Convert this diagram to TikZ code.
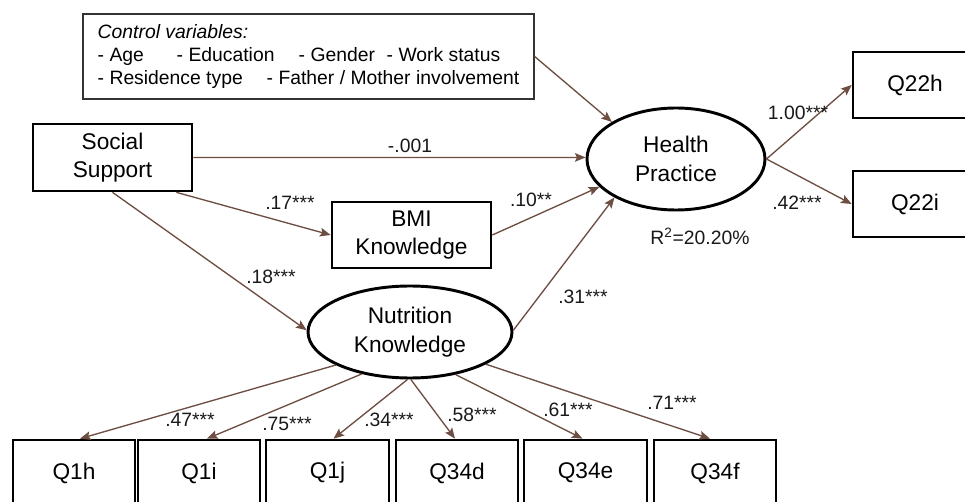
\documentclass[tikz,border=0pt]{standalone}
\usepackage{fontspec}
\setmainfont{Liberation Sans}
\usetikzlibrary{arrows.meta,shapes.geometric,calc}
\definecolor{connc}{RGB}{110,78,66}
\begin{document}
\begin{tikzpicture}[x=0.75pt,y=-0.75pt,
  boxnode/.style={draw=black,line width=2pt,rectangle,inner sep=0pt,
    font=\fontsize{17}{21.5}\selectfont,align=center},
  latent/.style={draw=black,line width=2.2pt,ellipse,inner sep=0pt,
    font=\fontsize{17}{21.5}\selectfont,align=center},
  ctrlbox/.style={draw=black!80,line width=1pt,rectangle,inner sep=0pt,
    minimum width=338.25pt,minimum height=63.75pt,
    font=\fontsize{14.5}{17.25}\selectfont,align=left},
  conn/.style={draw=connc,line width=1pt,-{Stealth[length=8pt,width=6.5pt,inset=1.5pt]}},
  lbl/.style={font=\fontsize{14.5}{17}\selectfont,inner sep=0pt,text=black!90}
]
\useasboundingbox (0,0) rectangle (965,502);
\fill[white] (0,0) rectangle (965,502);

% nodes
\node[ctrlbox] (ctrl) at (308.5,56.5)
  {\textit{Control variables:}\\
   \makebox[59.25pt][l]{- Age}\makebox[91.5pt][l]{- Education}\makebox[66pt][l]{- Gender}- Work status\\
   \makebox[126.75pt][l]{- Residence type}- Father / Mother involvement};
\node[boxnode,minimum width=119.25pt,minimum height=50.25pt] (Social) at (112.5,157.5) {Social\\Support};
\node[boxnode,minimum width=119.25pt,minimum height=49.5pt] (BMI) at (411.5,235) {BMI\\Knowledge};
\node[latent,minimum width=133.5pt,minimum height=76.5pt] (Health) at (676,159) {Health\\Practice};
\node[latent,minimum width=153pt,minimum height=69pt] (Nutri) at (410,332) {Nutrition\\Knowledge};
\node[boxnode,minimum width=93pt,minimum height=49.5pt] (Q22h) at (915,85) {Q22h};
\node[boxnode,minimum width=93pt,minimum height=49.5pt] (Q22i) at (915,204) {Q22i};
\node[boxnode,minimum width=91.5pt,minimum height=49.5pt] (Q1h) at (74,473) {Q1h};
\node[boxnode,minimum width=91.5pt,minimum height=49.5pt] (Q1i) at (199,473) {Q1i};
\node[boxnode,minimum width=92.25pt,minimum height=49.5pt] (Q1j) at (327.5,473) {Q1j};
\node[boxnode,minimum width=91.5pt,minimum height=49.5pt] (Q34d) at (457,473) {Q34d};
\node[boxnode,minimum width=92.25pt,minimum height=49.5pt] (Q34e) at (585.5,473) {Q34e};
\node[boxnode,minimum width=91.5pt,minimum height=49.5pt] (Q34f) at (715,473) {Q34f};

% connectors
\draw[conn] (ctrl.east) -- (Health.150);
\draw[conn] (Social.east) -- (Health.179);
\draw[conn] ($(Social.south east)+(-17,0)$) -- (BMI.west);
\draw[conn] (Social.south) -- (Nutri.179);
\draw[conn] (BMI.east) -- (Health.-160);
\draw[conn] (Nutri.1) -- (Health.-148);
\draw[conn] (Health.east) -- (Q22h.west);
\draw[conn] (Health.east) -- (Q22i.west);
\draw[conn] (Nutri.-156) -- ($(Q1h.north)+(6,0)$);
\draw[conn] (Nutri.-139) -- ($(Q1i.north)+(8,0)$);
\draw[conn] (Nutri.-93) -- ($(Q1j.north)+(6,0)$);
\draw[conn] (Nutri.-89) -- ($(Q34d.north)+(-2,0)$);
\draw[conn] (Nutri.-43) -- ($(Q34e.north)+(-3,0)$);
\draw[conn] (Nutri.-23) -- ($(Q34f.north)+(-5,0)$);

% labels
\node[lbl] (l001) at (410,146) {-.001};
\node[lbl] (l17) at (290,203) {.17***};
\node[lbl] (l10) at (531,200) {.10**};
\node[lbl] (l18) at (271,277) {.18***};
\node[lbl] (l31) at (583,297) {.31***};
\node[lbl] (l100) at (798,113) {1.00***};
\node[lbl] (l42) at (797,203) {.42***};
\node[lbl] (lr2) at (700,236) {R\textsuperscript{2}=20.20\%};
\node[lbl] (l47) at (190,420) {.47***};
\node[lbl] (l75) at (287,424) {.75***};
\node[lbl] (l34) at (389,420) {.34***};
\node[lbl] (l58) at (472,415) {.58***};
\node[lbl] (l61) at (568,410) {.61***};
\node[lbl] (l71) at (672,403) {.71***};
\end{tikzpicture}
\end{document}
